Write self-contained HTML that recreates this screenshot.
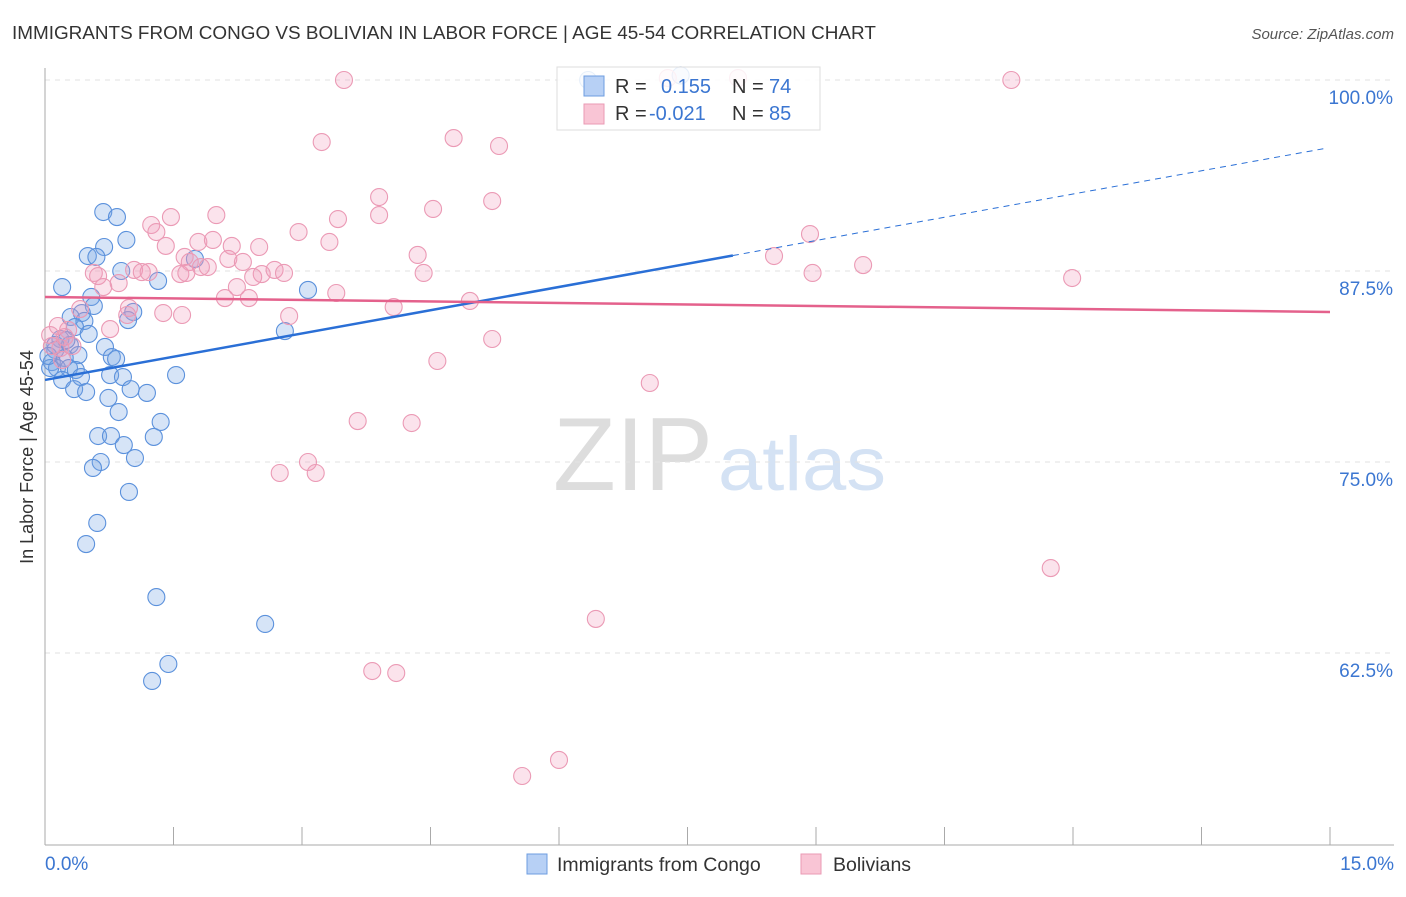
<!DOCTYPE html>
<html><head><meta charset="utf-8"><style>
body{margin:0;background:#fff;font-family:"Liberation Sans",sans-serif;}
svg text{font-family:"Liberation Sans",sans-serif;}
</style></head><body>
<svg id="chart" width="1406" height="892" xmlns="http://www.w3.org/2000/svg">
<text x="12" y="39" font-size="18.9" fill="#333">IMMIGRANTS FROM CONGO VS BOLIVIAN IN LABOR FORCE | AGE 45-54 CORRELATION CHART</text>
<text x="1394" y="39" font-size="15" fill="#555" text-anchor="end" font-style="italic">Source: ZipAtlas.com</text>
<g>
<text x="553" y="490" font-size="104" fill="#ddd" font-family="Liberation Serif,serif" textLength="160" lengthAdjust="spacingAndGlyphs">ZIP</text>
<text x="718" y="490" font-size="76" fill="#d4e2f4" textLength="168" lengthAdjust="spacingAndGlyphs">atlas</text>
</g>
<g id="grid"></g>
<g id="axes"></g>
<g id="pts"></g>
<g id="trend"></g>
<text transform="translate(33,457) rotate(-90)" font-size="18" fill="#333" text-anchor="middle">In Labor Force | Age 45-54</text>
<g>
<rect x="557" y="67" width="263" height="63" fill="#fff" fill-opacity="0.85" stroke="#ddd"/>
<rect x="584" y="76" width="20" height="20" fill="#b7d0f5" stroke="#6e9de0"/>
<rect x="584" y="104" width="20" height="20" fill="#f9c5d5" stroke="#ea9ab4"/>
<text x="615" y="93" font-size="20" fill="#333">R =</text>
<text x="661" y="93" font-size="20" fill="#3b76d1">0.155</text>
<text x="732" y="93" font-size="20" fill="#333">N =</text>
<text x="769" y="93" font-size="20" fill="#3b76d1">74</text>
<text x="615" y="120" font-size="20" fill="#333">R =</text>
<text x="649" y="120" font-size="20" fill="#3b76d1">-0.021</text>
<text x="732" y="120" font-size="20" fill="#333">N =</text>
<text x="769" y="120" font-size="20" fill="#3b76d1">85</text>
</g>
<g>
<rect x="527" y="854" width="20" height="20" fill="#b7d0f5" stroke="#6e9de0"/>
<text x="557" y="871" font-size="19.5" fill="#333">Immigrants from Congo</text>
<rect x="801" y="854" width="20" height="20" fill="#f9c5d5" stroke="#ea9ab4"/>
<text x="833" y="871" font-size="19.5" fill="#333">Bolivians</text>
</g>
</svg>
<script>
const yTicks=[100,87.5,75,62.5];
const yTickLabels=["100.0%","87.5%","75.0%","62.5%"];
const xTickVals=[0,1.5,3,4.5,6,7.5,9,10.5,12,13.5,15];
const congoX=[0.68,0.84,0.95,0.69,0.50,0.60,0.89,1.32,1.75,0.20,0.54,3.07,0.57,1.03,0.43,0.30,0.97,0.46,0.35,0.51,2.80,0.18,0.29,0.70,0.39,0.78,0.83,0.12,0.23,0.08,0.14,0.28,0.36,0.42,0.20,0.76,0.91,1.53,0.34,0.48,1.19,1.00,0.74,0.86,1.35,0.62,0.77,1.27,0.92,0.65,1.05,0.56,0.98,0.61,0.48,1.30,2.57,1.44,1.25,0.06,0.12,0.25,0.04,7.42,6.34];
const congoY=[91.36,91.03,89.53,89.07,88.48,88.42,87.50,86.85,88.29,86.45,85.80,86.26,85.21,84.82,84.75,84.49,84.29,84.23,83.83,83.38,83.57,83.05,82.66,82.53,82.00,81.87,81.74,82.33,81.81,81.54,81.15,81.15,81.02,80.56,80.37,80.69,80.56,80.69,79.77,79.58,79.52,79.77,79.19,78.27,77.62,76.70,76.70,76.64,76.11,75.00,75.26,74.61,73.04,71.01,69.63,66.16,64.40,61.78,60.67,81.15,82.66,82.98,81.94,100.3,100.0];
const bolX=[3.49,11.28,7.27,8.09,3.23,4.77,5.30,3.90,5.22,4.53,2.00,3.90,3.42,1.47,1.24,1.30,2.96,8.93,3.32,1.41,1.79,1.96,2.18,2.50,4.35,8.51,9.55,1.63,2.14,2.31,1.69,1.82,1.90,2.68,2.53,2.79,2.43,1.04,1.13,1.21,0.57,0.62,1.58,1.65,4.42,8.96,11.99,0.86,2.24,0.68,3.40,2.10,2.38,4.96,4.07,1.60,1.38,0.98,2.85,0.96,0.41,0.76,0.15,0.23,5.22,0.18,0.08,4.58,7.06,3.65,4.28,3.07,2.74,3.16,11.74,6.43,3.82,4.10,6.00,5.57,0.20,0.32,0.06,0.27];
const bolY=[100,100,100.13,100.13,95.94,96.20,95.68,92.34,92.08,91.56,91.16,91.16,90.90,91.03,90.51,90.05,90.05,89.92,89.40,89.14,89.40,89.53,89.14,89.07,88.55,88.48,87.89,88.42,88.29,88.09,88.09,87.76,87.76,87.57,87.30,87.37,87.11,87.57,87.43,87.43,87.37,87.17,87.30,87.37,87.37,87.37,87.04,86.71,86.45,86.45,86.06,85.73,85.73,85.54,85.14,84.62,84.75,85.08,84.55,84.62,85.01,83.70,83.90,83.18,83.05,82.46,82.59,81.61,80.17,77.68,77.55,75.00,74.28,74.28,68.06,64.73,61.32,61.19,55.50,54.45,81.68,82.59,83.31,83.64];
const congoTrend=[80.37,95.55];
const congoSolidEnd=8.03;
const bolTrend=[85.80,84.82];

const NS="http://www.w3.org/2000/svg";
const X0=45,X1=1330,Y100=80,PX_PER=15.28;
const sx=v=>X0+(X1-X0)*v/15;
const sy=v=>Y100+(100-v)*PX_PER;
function mk(t,a,p){const e=document.createElementNS(NS,t);for(const k in a)e.setAttribute(k,a[k]);p.appendChild(e);return e;}
const grid=document.getElementById('grid'),axes=document.getElementById('axes');
yTicks.forEach((v,i)=>{
 const l=mk('line',{x1:X0,x2:1394,y1:sy(v),y2:sy(v),stroke:'#e2e2e2','stroke-dasharray':'5,5'},grid);
 
 
 const t=mk('text',{x:1393,y:sy(v)+24,'font-size':19,fill:'#3b76d1','text-anchor':'end'},axes);
 t.textContent=yTickLabels[i];
 
 
});
mk('line',{x1:X0,x2:X0,y1:68,y2:845,stroke:'#aaa'},axes);
mk('line',{x1:X0,x2:1394,y1:845,y2:845,stroke:'#aaa'},axes);
xTickVals.forEach(v=>{const l=mk('line',{x1:sx(v),x2:sx(v),y1:827,y2:845,stroke:'#aaa'},axes);
 
 });
const xl0=mk('text',{x:45,y:870,'font-size':19,fill:'#3b76d1'},axes);xl0.textContent='0.0%';


const xl1=mk('text',{x:1394,y:870,'font-size':19,fill:'#3b76d1','text-anchor':'end'},axes);xl1.textContent='15.0%';


const pts=document.getElementById('pts');
congoX.forEach((x,i)=>{const c=mk('circle',{cx:sx(x),cy:sy(congoY[i]),r:8.5,fill:'rgba(120,165,230,0.3)',stroke:'#5b91dc','stroke-width':1.1},pts);
 
 });
bolX.forEach((x,i)=>{const c=mk('circle',{cx:sx(x),cy:sy(bolY[i]),r:8.5,fill:'rgba(240,155,185,0.28)',stroke:'#eb9ab5','stroke-width':1.1},pts);
 
 });
const tr=document.getElementById('trend');
const cy=x=>congoTrend[0]+(congoTrend[1]-congoTrend[0])*x/14.97;
const t1=mk('line',{x1:sx(0),y1:sy(cy(0)),x2:sx(congoSolidEnd),y2:sy(cy(congoSolidEnd)),stroke:'#2a6fd6','stroke-width':2.5},tr);


const t2=mk('line',{x1:sx(congoSolidEnd),y1:sy(cy(congoSolidEnd)),x2:sx(14.97),y2:sy(cy(14.97)),stroke:'#2a6fd6','stroke-width':1,'stroke-dasharray':'6,5'},tr);


const t3=mk('line',{x1:sx(0),y1:sy(bolTrend[0]),x2:sx(15),y2:sy(bolTrend[1]),stroke:'#e4618c','stroke-width':2.5},tr);


</script>
</body></html>
